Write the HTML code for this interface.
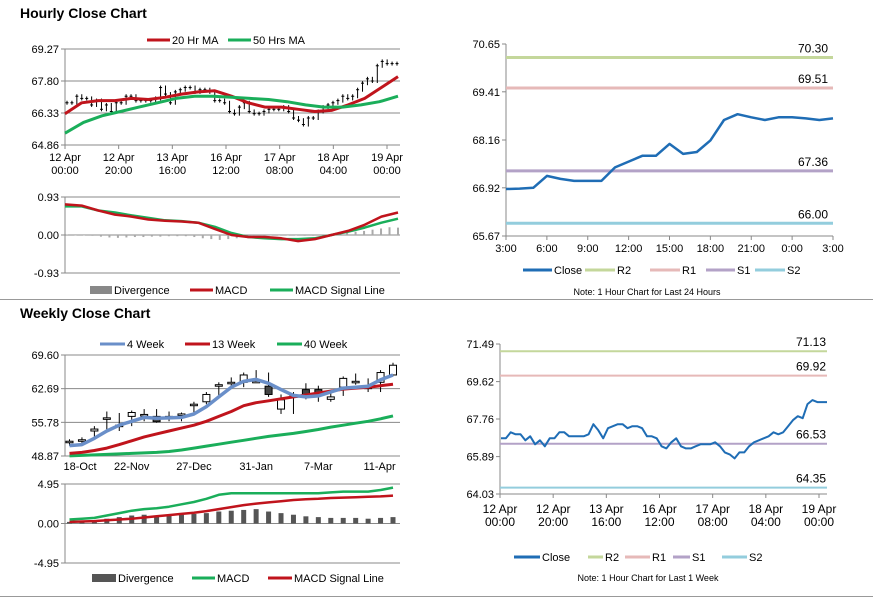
<!DOCTYPE html>
<html><head><meta charset="utf-8">
<style>
body{margin:0;background:#fff;width:873px;height:601px;overflow:hidden;font-family:"Liberation Sans",sans-serif}
svg{position:absolute;left:0;top:0}
text{font-family:"Liberation Sans",sans-serif;font-size:11px;fill:#000}
.t{font-size:14px;font-weight:bold}
</style></head>
<body>
<svg id="s" width="873" height="601">
<text class="t" x="20" y="18">Hourly Close Chart</text>
<text class="t" x="20" y="318">Weekly Close Chart</text>
<line x1="0" y1="299.5" x2="873" y2="299.5" stroke="#999"/>
<line x1="0" y1="596.5" x2="873" y2="596.5" stroke="#999"/>
</svg>
<script>
const hourlyClose=[66.8,66.8,67.1,67.0,67.0,66.7,66.9,66.5,66.7,66.4,66.8,66.8,67.1,67.1,66.9,66.9,66.9,66.9,67.0,67.5,67.2,66.8,67.3,67.4,67.5,67.5,67.3,67.4,67.4,67.3,66.9,66.9,66.8,66.4,66.3,66.6,66.8,66.4,66.3,66.3,66.4,66.5,66.5,66.5,66.6,66.4,66.1,66.0,65.8,66.1,66.1,66.4,66.6,66.7,66.8,66.9,67.1,67.0,67.1,67.4,67.7,67.9,67.8,68.5,68.7,68.6,68.6,68.6];
const ma20=[66.3,66.8,66.9,66.9,67.0,66.95,67.05,67.2,67.3,67.35,67.1,66.8,66.6,66.6,66.5,66.4,66.45,66.7,67.0,67.5,68.0];
const ma50=[65.4,65.9,66.2,66.4,66.6,66.8,67.0,67.1,67.1,67.05,67.0,66.95,66.85,66.7,66.6,66.6,66.7,66.85,67.1];
const hMacd=[0.75,0.72,0.6,0.5,0.45,0.38,0.35,0.33,0.3,0.15,0.0,-0.05,-0.05,-0.08,-0.15,-0.1,0.0,0.1,0.25,0.45,0.55];
const hSignal=[0.7,0.7,0.6,0.55,0.48,0.42,0.36,0.34,0.3,0.2,0.05,-0.05,-0.08,-0.1,-0.1,-0.08,0.0,0.08,0.18,0.3,0.4];
const hDiv=[0.01,0.0,-0.01,-0.02,-0.04,-0.06,-0.07,-0.06,-0.05,-0.05,-0.04,-0.04,-0.03,-0.03,-0.03,-0.05,-0.08,-0.1,-0.12,-0.1,-0.08,-0.06,-0.04,-0.02,-0.01,0,0,-0.01,-0.02,-0.02,0.0,0.02,0.04,0.06,0.08,0.1,0.13,0.16,0.19,0.18];
const hourTicks=["12 Apr|00:00","12 Apr|20:00","13 Apr|16:00","16 Apr|12:00","17 Apr|08:00","18 Apr|04:00","19 Apr|00:00"];
const dayClose=[66.89,66.9,66.92,67.23,67.15,67.1,67.1,67.1,67.45,67.6,67.75,67.75,68.06,67.8,67.85,68.15,68.68,68.83,68.75,68.68,68.75,68.75,68.72,68.68,68.72];
const dayTicks=["3:00","6:00","9:00","12:00","15:00","18:00","21:00","0:00","3:00"];
const dayLevels=[70.30,69.51,67.36,66.00];
const weekLevels=[71.13,69.92,66.53,64.35];
const wOpen=[51.7,52.0,54.0,56.6,55.0,57.0,57.1,57.0,57.0,57.3,59.4,60.0,63.4,63.9,64.0,64.1,63.2,58.5,61.0,62.5,62.5,60.5,63.0,64.0,62.9,64.0,65.5];
const wClose=[51.9,52.2,54.4,56.7,55.2,57.8,57.4,55.9,56.5,57.5,59.5,61.5,63.5,64.0,65.5,64.2,61.5,60.4,61.2,61.5,61.5,61.0,64.8,64.2,63.0,66.0,67.5];
const wHigh=[52.3,52.7,55.0,58.0,57.7,58.2,58.5,58.5,58.0,57.8,60.0,62.0,64.0,65.0,66.0,66.5,66.0,61.5,62.0,63.8,63.3,62.0,65.2,65.8,64.8,66.5,68.0];
const wLow=[51.0,51.3,52.5,54.0,54.0,55.0,56.0,55.7,56.0,56.0,57.5,59.5,61.0,63.0,63.0,64.0,61.0,57.5,57.5,60.5,60.0,60.0,61.2,63.5,62.0,62.0,65.5];
const wk4=[51.0,51.2,52.5,54.0,55.2,56.0,56.8,56.6,56.7,56.8,57.5,59.0,61.0,63.0,64.2,64.6,63.8,62.5,61.3,61.0,61.2,62.0,62.8,63.0,63.2,64.5,65.5];
const wk13=[49.4,49.6,50.0,50.5,51.2,52.0,52.8,53.4,54.0,54.6,55.2,56.0,57.0,58.0,59.2,59.8,60.2,60.6,61.0,61.4,61.8,62.2,62.6,62.8,63.0,63.3,63.6];
const wk40=[48.9,49.0,49.1,49.2,49.3,49.4,49.5,49.6,49.8,50.1,50.5,50.9,51.3,51.7,52.1,52.5,52.9,53.2,53.5,53.9,54.3,54.8,55.2,55.6,56.0,56.5,57.1];
const wMacd=[0.5,0.6,0.7,1.0,1.3,1.6,1.8,1.9,2.1,2.4,2.7,3.1,3.6,3.8,3.8,3.8,3.8,3.8,3.8,3.8,3.8,3.9,4.0,4.0,4.0,4.2,4.5];
const wSignal=[0.2,0.25,0.3,0.4,0.5,0.6,0.75,0.9,1.05,1.2,1.35,1.55,1.8,2.05,2.3,2.5,2.65,2.8,2.95,3.05,3.1,3.2,3.25,3.3,3.35,3.4,3.5];
const wDiv=[0.2,0.3,0.4,0.6,0.8,1.0,1.1,1.0,1.05,1.1,1.2,1.3,1.5,1.6,1.7,1.8,1.5,1.3,1.1,0.9,0.8,0.7,0.7,0.7,0.6,0.7,0.8];
const weekTicks=["18-Oct","22-Nov","27-Dec","31-Jan","7-Mar","11-Apr"];

const S=document.getElementById('s');
function mk(tag,name,a){const e=document.createElementNS('http://www.w3.org/2000/svg',tag);for(const k in a)e.setAttribute(k,a[k]);


S.appendChild(e);return e;}
function txt(name,x,y,s,anchor,size){const e=mk('text',name,{x:x,y:y,'text-anchor':anchor||'start'});if(size)e.style.fontSize=size+'px';e.textContent=s;return e;}
function lin(d0,d1,r0,r1){return v=>r0+(v-d0)*(r1-r0)/(d1-d0);}
function poly(name,arr,xf,yf,col,w){mk('polyline',name,{points:arr.map((v,i)=>xf(i).toFixed(1)+','+yf(v).toFixed(1)).join(' '),fill:'none',stroke:col,'stroke-width':w,'stroke-linejoin':'round'});}
function yaxis(name,x0,x1,ticks,yf,grid){ticks.forEach(t=>{const y=yf(t);
if(grid)mk('line',name+'-grid',{x1:x0,y1:y,x2:x1,y2:y,stroke:'#888','stroke-width':1});
mk('line',name+'-tick',{x1:x0-4,y1:y,x2:x0,y2:y,stroke:'#888'});
txt(name+'-label',x0-6,y+4,t.toFixed(2),'end');});
mk('line',name+'-line',{x1:x0,y1:yf(ticks[0]),x2:x0,y2:yf(ticks[ticks.length-1]),stroke:'#888'});}
function legLine(name,x,y,w,col,lab,rect){if(rect)mk('rect',name+'-swatch',{x:x,y:y-4,width:w,height:8,fill:col});else mk('line',name+'-swatch',{x1:x,y1:y,x2:x+w,y2:y,stroke:col,'stroke-width':3});txt(name,x+w+2,y+4,lab);}
const RED='#c0141c',GRN='#1aae5a',BLU='#1f6db5',MAB='#6a8fc9';

{const yf=lin(64.86,69.27,145,49);const X0=65,X1=400;
yaxis('hourly-y',X0,X1,[64.86,66.33,67.80,69.27],yf,true);
mk('line','hourly-x-axis',{x1:X0,y1:145,x2:X1,y2:145,stroke:'#888'});
const tx=lin(0,6,65,387);
hourTicks.forEach((t,i)=>{const x=tx(i);mk('line','hourly-x-tick',{x1:x,y1:145,x2:x,y2:149,stroke:'#888'});const p=t.split('|');txt('hourly-x-label',x,161,p[0],'middle');txt('hourly-x-label',x,174,p[1],'middle');});
const xf=lin(0,hourlyClose.length-1,67,397);
hourlyClose.forEach((v,i)=>{const p=i?hourlyClose[i-1]:v;const x=xf(i);mk('line','hourly-candle',{x1:x,y1:yf(Math.max(p,v))-2,x2:x,y2:yf(Math.min(p,v))+2,stroke:'#000','stroke-width':1});mk('line','hourly-candle-tick',{x1:x-1.5,y1:yf(v),x2:x+1.5,y2:yf(v),stroke:'#000'});});
poly('ma20-line',ma20,lin(0,ma20.length-1,65,398),yf,RED,3);
poly('ma50-line',ma50,lin(0,ma50.length-1,65,398),yf,GRN,3);
legLine('legend-20hr-ma',147,40,23,RED,'20 Hr MA');legLine('legend-50hrs-ma',228,40,23,GRN,'50 Hrs MA');}
{const yf=lin(-0.93,0.93,273,197);const X0=65,X1=400;
yaxis('hourly-macd-y',X0,X1,[-0.93,0.00,0.93],yf,true);
const xd=lin(0,hDiv.length-1,67,398);
hDiv.forEach((v,i)=>{const y=yf(v),y0=yf(0);mk('rect','hourly-divergence-bar',{x:xd(i)-1,y:Math.min(y,y0),width:2,height:Math.max(0.5,Math.abs(y-y0)),fill:'#aaa'});});
poly('hourly-signal-line',hSignal,lin(0,hSignal.length-1,65,398),yf,GRN,2.5);
poly('hourly-macd-line',hMacd,lin(0,hMacd.length-1,65,398),yf,RED,2.5);
legLine('legend-divergence',90,290,22,'#888','Divergence',true);legLine('legend-macd',190,290,23,RED,'MACD');legLine('legend-signal',270,290,23,GRN,'MACD Signal Line');}
{const yf=lin(65.67,70.65,236,44);const X0=506,X1=833;
yaxis('day-y',X0,X1,[65.67,66.92,68.16,69.41,70.65],yf,false);
mk('line','day-x-axis',{x1:X0,y1:236,x2:X1,y2:236,stroke:'#888'});
const tx=lin(0,8,506,833);
dayTicks.forEach((t,i)=>{const x=tx(i);mk('line','day-x-tick',{x1:x,y1:236,x2:x,y2:240,stroke:'#888'});txt('day-x-label',x,252,t,'middle');});
const cols=['#c4d79b','#e6b9b8','#b3a2c7','#93cddd'];
dayLevels.forEach((v,i)=>{mk('line','day-level-'+i,{x1:X0,y1:yf(v),x2:X1,y2:yf(v),stroke:cols[i],'stroke-width':3});txt('day-level-label',828,yf(v)-5,v.toFixed(2),'end',12);});
poly('day-close-line',dayClose,lin(0,24,506,833),yf,BLU,2.5);
legLine('legend-close',523,270,29,BLU,'Close');legLine('legend-r2',585,270,30,cols[0],'R2');legLine('legend-r1',650,270,30,cols[1],'R1');legLine('legend-s1',706,270,29,cols[2],'S1');legLine('legend-s2',755,270,30,cols[3],'S2');
txt('day-note',647,295,'Note: 1 Hour Chart for Last 24 Hours','middle',9);}
{const yf=lin(48.87,69.60,456,355);const X0=65,X1=400;
yaxis('weekly-y',X0,X1,[48.87,55.78,62.69,69.60],yf,true);
mk('line','weekly-x-axis',{x1:X0,y1:456,x2:X1,y2:456,stroke:'#888'});
const xf=lin(0,26,69.5,393);
weekTicks.forEach((t,i)=>{const x=xf(i*5)-(i==5?1:0);txt('weekly-x-label',Math.max(x,62+18),470,t,'middle');});
wOpen.forEach((o,i)=>{const c=wClose[i],x=xf(i);mk('line','weekly-wick',{x1:x,y1:yf(wHigh[i]),x2:x,y2:yf(wLow[i]),stroke:'#000'});
const top=yf(Math.max(o,c)),h=Math.max(1.5,Math.abs(yf(o)-yf(c)));mk('rect','weekly-candle',{x:x-3.5,y:top,width:7,height:h,fill:c>=o?'#fff':'#444',stroke:'#000','stroke-width':1});});
poly('weekly-40wk-line',wk40,xf,yf,GRN,3);poly('weekly-13wk-line',wk13,xf,yf,RED,3);poly('weekly-4wk-line',wk4,xf,yf,MAB,3.5);
legLine('legend-4-week',100,344,25,MAB,'4 Week');legLine('legend-13-week',185,344,25,RED,'13 Week');legLine('legend-40-week',277,344,25,GRN,'40 Week');}
{const yf=lin(-4.95,4.95,563,484);const X0=65,X1=400;
yaxis('weekly-macd-y',X0,X1,[-4.95,0.00,4.95],yf,true);
const xf=lin(0,26,69.5,393);
wDiv.forEach((v,i)=>{const y=yf(v),y0=yf(0);mk('rect','weekly-divergence-bar',{x:xf(i)-2.5,y:Math.min(y,y0),width:5,height:Math.abs(y-y0),fill:'#555'});});
poly('weekly-signal-line',wSignal,xf,yf,RED,2.5);poly('weekly-macd-line',wMacd,xf,yf,GRN,2.5);
legLine('legend-weekly-divergence',92,578,24,'#555','Divergence',true);legLine('legend-weekly-macd',192,578,23,GRN,'MACD');legLine('legend-weekly-signal',268,578,24,RED,'MACD Signal Line');}
{const yf=lin(64.03,71.49,494,344);const X0=500,X1=827;
yaxis('week-y',X0,X1,[64.03,65.89,67.76,69.62,71.49],yf,false);
mk('line','week-x-axis',{x1:X0,y1:494,x2:X1,y2:494,stroke:'#888'});
const tx=lin(0,6,500,819);
hourTicks.forEach((t,i)=>{const x=tx(i);mk('line','week-x-tick',{x1:x,y1:494,x2:x,y2:498,stroke:'#888'});const p=t.split('|');txt('week-x-label',x,513,p[0],'middle',12);txt('week-x-label',x,526,p[1],'middle',12);});
const cols=['#c4d79b','#e6b9b8','#b3a2c7','#93cddd'];
weekLevels.forEach((v,i)=>{mk('line','week-level-'+i,{x1:X0,y1:yf(v),x2:X1,y2:yf(v),stroke:cols[i],'stroke-width':2});txt('week-level-label',826,yf(v)-5,v.toFixed(2),'end',12);});
poly('week-close-line',hourlyClose,lin(0,hourlyClose.length-1,501,827),yf,BLU,2);
legLine('legend-week-close',514,557,26,BLU,'Close');legLine('legend-week-r2',588,557,15,cols[0],'R2');legLine('legend-week-r1',625,557,25,cols[1],'R1');legLine('legend-week-s1',673,557,17,cols[2],'S1');legLine('legend-week-s2',722,557,25,cols[3],'S2');
txt('week-note',648,581,'Note: 1 Hour Chart for Last 1 Week','middle',9);}
</script>
</body></html>
